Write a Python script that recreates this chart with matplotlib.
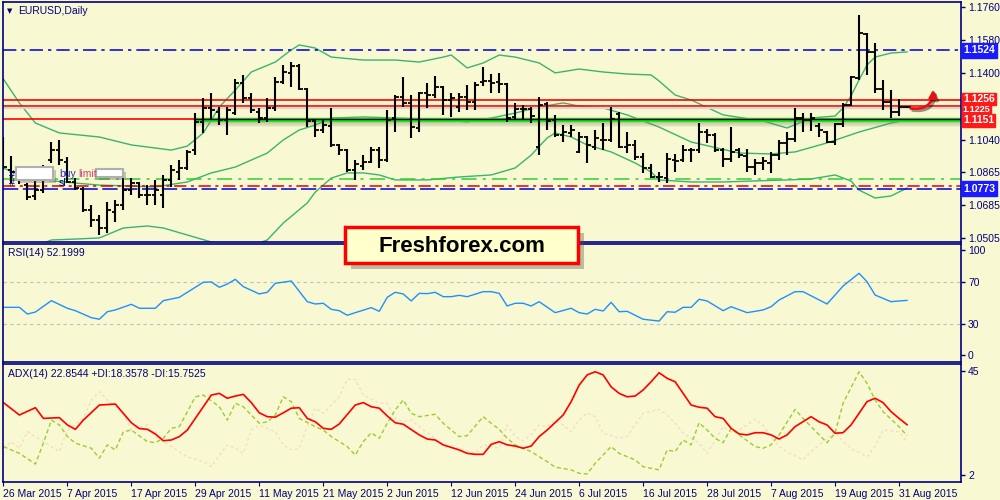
import matplotlib
matplotlib.use("Agg")
import matplotlib.pyplot as plt
import matplotlib.patheffects as pe
from matplotlib.patches import Rectangle, FancyArrowPatch
import numpy as np

# EURUSD daily bars, 26 Mar 2015 .. 1 Sep 2015
opens = [
    1.0956, 1.0875, 1.0864, 1.0793, 1.0734, 1.0766, 1.0929, 1.0983, 1.0918, 1.0810,
    1.0772, 1.0658, 1.0603, 1.0560, 1.0647, 1.0685, 1.0766, 1.0804, 1.0739, 1.0739,
    1.0739, 1.0821, 1.0864, 1.0886, 1.0983, 1.1136, 1.1212, 1.1190, 1.1146, 1.1184,
    1.1347, 1.1266, 1.1190, 1.1157, 1.1212, 1.1353, 1.1402, 1.1440, 1.1315, 1.1141,
    1.1092, 1.1114, 1.1011, 1.0983, 1.0875, 1.0897, 1.0918, 1.0983, 1.0929, 1.1157,
    1.1271, 1.1239, 1.1103, 1.1293, 1.1282, 1.1326, 1.1255, 1.1217, 1.1271, 1.1244,
    1.1353, 1.1358, 1.1353, 1.1342, 1.1163, 1.1206, 1.1206, 1.1000, 1.1233, 1.1146,
    1.1065, 1.1076, 1.0973, 1.1054, 1.1000, 1.1038, 1.1038, 1.1179, 1.1000, 1.1011,
    1.0945, 1.0886, 1.0837, 1.0831, 1.0929, 1.0929, 1.0983, 1.0983, 1.1081, 1.1065,
    1.0983, 1.0935, 1.0983, 1.0951, 1.0891, 1.0913, 1.0913, 1.0956, 1.1022, 1.1043,
    1.1157, 1.1146, 1.1114, 1.1081, 1.1027, 1.1125, 1.1228, 1.1374, 1.1613, 1.1516,
    1.1315, 1.1244, 1.1190, 1.1217]
highs = [
    1.1054, 1.0951, 1.0886, 1.0804, 1.0815, 1.0902, 1.1027, 1.1038, 1.0945, 1.0831,
    1.0783, 1.0685, 1.0631, 1.0701, 1.0712, 1.0831, 1.0831, 1.0810, 1.0793, 1.0821,
    1.0848, 1.0902, 1.0929, 1.0983, 1.1184, 1.1266, 1.1293, 1.1217, 1.1217, 1.1369,
    1.1391, 1.1293, 1.1212, 1.1266, 1.1380, 1.1445, 1.1461, 1.1450, 1.1320, 1.1146,
    1.1146, 1.1212, 1.1016, 1.0989, 1.0929, 1.0956, 1.1000, 1.1000, 1.1201, 1.1282,
    1.1380, 1.1282, 1.1298, 1.1347, 1.1385, 1.1331, 1.1293, 1.1293, 1.1336, 1.1353,
    1.1434, 1.1396, 1.1402, 1.1347, 1.1239, 1.1228, 1.1217, 1.1271, 1.1244, 1.1174,
    1.1119, 1.1119, 1.1081, 1.1060, 1.1092, 1.1130, 1.1217, 1.1190, 1.1081, 1.1038,
    1.0967, 1.0907, 1.0864, 1.0967, 1.0962, 1.1011, 1.0994, 1.1130, 1.1098, 1.1076,
    1.0994, 1.1108, 1.0994, 1.0989, 1.0935, 1.0945, 1.0973, 1.1038, 1.1081, 1.1212,
    1.1184, 1.1184, 1.1130, 1.1087, 1.1130, 1.1239, 1.1385, 1.1717, 1.1619, 1.1565,
    1.1364, 1.1309, 1.1260, 1.1222]
lows = [
    1.0875, 1.0804, 1.0799, 1.0712, 1.0712, 1.0750, 1.0913, 1.0902, 1.0804, 1.0766,
    1.0647, 1.0565, 1.0522, 1.0533, 1.0593, 1.0658, 1.0739, 1.0723, 1.0685, 1.0685,
    1.0669, 1.0783, 1.0821, 1.0875, 1.0956, 1.1076, 1.1146, 1.1119, 1.1065, 1.1174,
    1.1239, 1.1184, 1.1130, 1.1136, 1.1195, 1.1342, 1.1326, 1.1309, 1.1108, 1.1054,
    1.1076, 1.1000, 1.0956, 1.0864, 1.0821, 1.0875, 1.0913, 1.0886, 1.0918, 1.1081,
    1.1217, 1.1049, 1.1081, 1.1212, 1.1266, 1.1174, 1.1163, 1.1190, 1.1201, 1.1201,
    1.1331, 1.1293, 1.1293, 1.1136, 1.1146, 1.1146, 1.1130, 1.0956, 1.1092, 1.1054,
    1.1027, 1.1054, 1.0967, 1.0913, 1.0983, 1.0983, 1.1027, 1.0994, 1.0967, 1.0929,
    1.0859, 1.0831, 1.0810, 1.0804, 1.0864, 1.0918, 1.0918, 1.0967, 1.1022, 1.0973,
    1.0891, 1.0918, 1.0940, 1.0864, 1.0848, 1.0875, 1.0859, 1.0929, 1.0956, 1.1027,
    1.1081, 1.1087, 1.1054, 1.1022, 1.1011, 1.1108, 1.1222, 1.1364, 1.1391, 1.1293,
    1.1201, 1.1157, 1.1168, 1.1212]
closes = [
    1.0891, 1.0864, 1.0831, 1.0728, 1.0766, 1.0886, 1.0983, 1.0929, 1.0810, 1.0777,
    1.0658, 1.0603, 1.0560, 1.0658, 1.0685, 1.0766, 1.0804, 1.0739, 1.0739, 1.0766,
    1.0821, 1.0875, 1.0886, 1.0973, 1.1136, 1.1212, 1.1201, 1.1146, 1.1201, 1.1347,
    1.1266, 1.1201, 1.1157, 1.1212, 1.1353, 1.1407, 1.1440, 1.1315, 1.1141, 1.1092,
    1.1119, 1.1011, 1.0983, 1.0875, 1.0907, 1.0918, 1.0983, 1.0929, 1.1146, 1.1271,
    1.1239, 1.1108, 1.1293, 1.1282, 1.1326, 1.1255, 1.1266, 1.1271, 1.1244, 1.1336,
    1.1358, 1.1347, 1.1342, 1.1157, 1.1206, 1.1206, 1.1168, 1.1228, 1.1141, 1.1065,
    1.1081, 1.1092, 1.1054, 1.1011, 1.1049, 1.1038, 1.1152, 1.1000, 1.1011, 1.0945,
    1.0886, 1.0837, 1.0837, 1.0935, 1.0924, 1.0983, 1.0983, 1.1081, 1.1065, 1.0983,
    1.0935, 1.0973, 1.0956, 1.0891, 1.0913, 1.0924, 1.0956, 1.1022, 1.1043, 1.1157,
    1.1146, 1.1157, 1.1092, 1.1027, 1.1125, 1.1228, 1.1380, 1.1619, 1.1516, 1.1315,
    1.1244, 1.1190, 1.1217, 1.1217]

# Bollinger bands (read at bar indices)
bb_up_idx = [0, 2, 4, 7, 12, 16, 21, 23, 25, 27, 29, 31, 34, 36, 37, 39, 41, 45, 49, 52,
             55, 56, 58, 60, 62, 64, 67, 69, 72, 75, 78, 81, 82, 84, 86, 90, 95, 98, 101,
             104, 105, 106, 107, 108, 109, 111, 113]
bb_up = [1.1369, 1.1239, 1.1130, 1.1076, 1.1054, 1.1011, 1.0983, 1.1005, 1.1076, 1.1217,
         1.1309, 1.1407, 1.1461, 1.1527, 1.1554, 1.1537, 1.1488, 1.1472, 1.1472, 1.1461,
         1.1488, 1.1499, 1.1429, 1.1456, 1.1499, 1.1488, 1.1456, 1.1402, 1.1423, 1.1407,
         1.1396, 1.1391, 1.1358, 1.1282, 1.1255, 1.1174, 1.1141, 1.1103, 1.1157,
         1.1168, 1.1212, 1.1277, 1.1364, 1.1445, 1.1488, 1.1510, 1.1516]
bb_mid_idx = [0, 2, 5, 9, 12, 16, 19, 23, 26, 29, 31, 33, 35, 37, 39, 41, 45, 49, 53, 55,
              58, 61, 64, 67, 70, 72, 75, 78, 82, 86, 92, 96, 99, 103, 107, 111, 113]
bb_mid = [1.0886, 1.0848, 1.0821, 1.0804, 1.0793, 1.0788, 1.0783, 1.0810, 1.0859, 1.0891,
          1.0929, 1.0967, 1.1038, 1.1092, 1.1119, 1.1157, 1.1163, 1.1157, 1.1152, 1.1146,
          1.1136, 1.1157, 1.1184, 1.1217, 1.1239, 1.1222, 1.1212, 1.1174, 1.1108, 1.1027,
          1.0967, 1.0962, 1.0973, 1.1022, 1.1081, 1.1130, 1.1146]
bb_lo_idx = [0, 3, 6, 9, 12, 15, 18, 20, 23, 26, 29, 32, 33, 35, 38, 39, 41, 43, 45, 47,
             49, 53, 57, 61, 64, 66, 68, 69, 71, 73, 76, 79, 81, 82, 86, 90, 98, 101,
             104, 106, 107, 109, 111, 113]
bb_lo = [1.0397, 1.0441, 1.0495, 1.0500, 1.0506, 1.0560, 1.0571, 1.0560, 1.0522, 1.0484,
         1.0457, 1.0479, 1.0495, 1.0587, 1.0696, 1.0755, 1.0831, 1.0859, 1.0859, 1.0848,
         1.0821, 1.0821, 1.0837, 1.0848, 1.0886, 1.0956, 1.1049, 1.1076, 1.1054, 1.1011,
         1.0973, 1.0913, 1.0864, 1.0821, 1.0810, 1.0810, 1.0821, 1.0826,
         1.0848, 1.0815, 1.0766, 1.0723, 1.0734, 1.0777]

# RSI(14)
rsi_idx = [0, 2, 3, 4, 6, 8, 9, 11, 12, 13, 14, 16, 17, 19, 20, 22, 25, 26, 27, 28, 29, 30,
           32, 33, 34, 36, 38, 39, 40, 41, 42, 43, 44, 46, 47, 48, 49, 50, 51, 52, 53, 54,
           55, 56, 57, 58, 60, 61, 62, 63, 64, 65, 66, 67, 69, 71, 72, 73, 74, 75, 76, 77,
           78, 80, 82, 83, 84, 85, 86, 87, 88, 90, 91, 93, 95, 96, 97, 99, 100, 103, 105,
           107, 108, 109, 111, 112, 113]
rsi_val = [45.6, 45.6, 39.2, 41.1, 52.0, 44.7, 42.4, 35.7, 34.2, 41.4, 43.1, 48.5, 44.7,
           44.7, 52.0, 55.2, 69.6, 69.9, 64.8, 67.9, 72.4, 65.4, 58.4, 60.0, 68.6, 70.8,
           51.0, 48.8, 49.5, 43.7, 42.4, 38.0, 40.5, 45.3, 41.8, 55.2, 60.0, 58.4, 51.7,
           59.0, 58.7, 60.0, 55.8, 55.8, 57.1, 55.8, 60.6, 60.6, 59.0, 46.9, 49.5, 49.5,
           46.9, 51.0, 40.5, 44.7, 40.5, 39.2, 43.7, 42.1, 50.4, 41.4, 41.8, 34.2, 32.5,
           41.4, 40.9, 45.6, 45.6, 53.3, 51.7, 42.4, 46.2, 40.5, 43.1, 46.2, 52.6, 60.6,
           60.6, 48.8, 66.0, 78.2, 70.1, 57.4, 51.0, 51.7, 52.2]

# ADX(14), +DI, -DI
adx_idx = [0, 2, 4, 5, 7, 8, 9, 10, 12, 14, 16, 17, 18, 19, 20, 21, 22, 23, 24, 26, 27, 28,
           29, 30, 31, 32, 33, 34, 35, 36, 37, 38, 39, 40, 41, 42, 44, 45, 46, 47, 48, 49,
           50, 52, 53, 54, 55, 57, 58, 59, 60, 61, 62, 63, 64, 65, 66, 67, 68, 70, 71, 72,
           73, 74, 75, 76, 77, 78, 79, 80, 81, 82, 83, 84, 85, 86, 87, 88, 89, 90, 91, 92,
           93, 94, 95, 96, 97, 98, 99, 101, 102, 103, 104, 105, 106, 107, 108, 109, 110,
           111, 112, 113]
adx_val = [32.0, 26.9, 29.9, 25.5, 25.8, 22.8, 21.0, 24.8, 31.0, 31.4, 23.7, 21.3, 21.0,
           19.1, 16.3, 16.6, 18.0, 20.7, 25.5, 35.1, 35.8, 33.8, 34.7, 35.4, 32.0, 27.8,
           26.2, 26.0, 27.8, 29.7, 29.9, 25.5, 24.1, 21.4, 21.0, 23.2, 31.0, 32.0, 30.3,
           29.7, 26.5, 23.7, 23.1, 18.7, 17.0, 16.6, 14.6, 12.5, 11.1, 10.7, 10.7, 14.8,
           15.9, 14.6, 14.1, 13.2, 14.1, 18.0, 20.7, 26.9, 32.4, 39.2, 43.4, 44.7, 43.4,
           38.5, 35.8, 34.4, 34.7, 37.2, 40.6, 44.3, 42.0, 40.6, 35.8, 31.0, 30.1, 29.7,
           26.2, 25.5, 21.4, 19.1, 18.7, 19.6, 19.6, 18.7, 17.0, 18.7, 22.1, 26.2, 24.1,
           22.8, 19.4, 19.6, 22.8, 27.6, 32.4, 33.8, 32.0, 28.3, 25.5, 22.9]
pdi_idx = [0, 2, 4, 5, 6, 7, 8, 9, 11, 12, 13, 14, 15, 16, 18, 19, 20, 21, 22, 24, 25, 27,
           28, 29, 30, 32, 33, 34, 35, 36, 37, 39, 40, 41, 43, 44, 45, 46, 47, 48, 49, 50,
           51, 52, 54, 55, 57, 58, 60, 61, 62, 63, 64, 66, 67, 68, 69, 71, 72, 73, 74, 76,
           77, 79, 80, 82, 83, 84, 85, 86, 87, 88, 89, 90, 91, 92, 94, 95, 96, 97, 99, 100,
           101, 102, 103, 104, 105, 107, 108, 109, 110, 112, 113]
pdi_val = [13.9, 11.1, 6.7, 15.3, 24.8, 22.8, 18.0, 15.3, 13.2, 9.1, 14.6, 12.5, 20.0, 20.7,
           15.9, 15.5, 17.3, 21.4, 22.1, 34.4, 35.1, 30.3, 24.8, 31.7, 30.3, 23.5, 24.1,
           26.9, 34.4, 32.4, 25.5, 22.1, 20.7, 18.0, 13.9, 10.4, 15.9, 19.6, 17.3, 23.5,
           29.0, 33.1, 27.6, 26.2, 27.2, 23.5, 18.0, 18.4, 26.2, 23.5, 21.0, 17.3, 14.6,
           11.8, 9.7, 7.7, 5.4, 4.3, 2.9, 2.6, 7.0, 13.9, 11.1, 8.4, 5.6, 4.3, 12.5, 11.8,
           16.6, 14.6, 23.7, 20.7, 17.3, 15.5, 21.4, 18.7, 13.9, 13.2, 14.6, 18.7, 29.2,
           25.5, 22.1, 18.7, 15.5, 19.4, 31.7, 44.7, 39.9, 33.1, 28.3, 22.1, 18.4]
mdi_idx = [0, 1, 2, 3, 4, 6, 7, 8, 10, 11, 12, 13, 15, 16, 18, 19, 21, 23, 25, 26, 27, 28,
           29, 30, 31, 32, 34, 35, 36, 37, 38, 39, 40, 42, 43, 44, 45, 47, 48, 49, 50, 51,
           52, 54, 55, 57, 59, 60, 62, 63, 64, 65, 66, 67, 68, 69, 70, 71, 72, 73, 74, 75,
           77, 78, 79, 80, 82, 83, 84, 85, 87, 88, 89, 90, 91, 92, 94, 95, 96, 97, 98, 100,
           101, 103, 104, 105, 106, 108, 109, 110, 112, 113]
mdi_val = [13.2, 15.9, 13.2, 20.0, 18.0, 13.9, 11.8, 20.7, 25.5, 33.1, 36.5, 33.1, 27.6,
           20.7, 22.8, 18.0, 13.9, 9.7, 7.7, 5.6, 10.4, 14.6, 13.2, 11.1, 20.7, 22.8, 20.0,
           14.6, 12.5, 13.2, 22.1, 29.7, 27.6, 34.4, 41.6, 41.6, 35.1, 31.7, 31.7, 25.5,
           24.1, 24.8, 22.1, 17.3, 13.9, 13.2, 11.1, 14.6, 13.2, 22.8, 18.0, 16.3, 18.7,
           22.8, 22.1, 24.8, 22.8, 20.0, 24.8, 27.8, 26.2, 19.4, 17.3, 18.0, 22.8, 27.6,
           29.2, 26.9, 23.5, 19.4, 15.3, 11.1, 16.6, 22.1, 20.0, 20.7, 25.1, 22.8, 18.0,
           13.9, 11.8, 8.4, 11.8, 17.3, 20.0, 15.9, 13.2, 9.7, 13.9, 20.7, 20.0, 15.8]

date_labels = ['26 Mar 2015', '7 Apr 2015', '17 Apr 2015', '29 Apr 2015', '11 May 2015',
               '21 May 2015', '2 Jun 2015', '12 Jun 2015', '24 Jun 2015', '6 Jul 2015',
               '16 Jul 2015', '28 Jul 2015', '7 Aug 2015', '19 Aug 2015', '31 Aug 2015']
price_ticks = [1.1760, 1.1580, 1.1400, 1.1040, 1.0865, 1.0685, 1.0505]

# horizontal levels
lvl_blue_top = 1.1524
lvl_red = [1.1256, 1.1225]
lvl_support = 1.1151
lvl_green_dd = 1.0826
lvl_red_dd = 1.0788
lvl_blue_low = 1.0773

BG = '#f8f8d2'
NAVY = '#000080'
plt.rcParams['font.family'] = ['Liberation Sans', 'DejaVu Sans']

fig = plt.figure(figsize=(10, 5), dpi=100, facecolor=BG)
W, H = 1000.0, 500.0


def px_axes(x0, y0, x1, y1):
    return fig.add_axes([x0 / W, 1 - y1 / H, (x1 - x0) / W, (y1 - y0) / H])


ax = px_axes(3, 2, 961, 242)
ax_rsi = px_axes(3, 244, 961, 362)
ax_adx = px_axes(3, 364, 961, 482)

for a in (ax, ax_rsi, ax_adx):
    a.set_facecolor(BG)
    for s in a.spines.values():
        s.set_color(NAVY)
        s.set_linewidth(1.2)
    a.set_xlim(-0.05, 119.75)
    a.yaxis.tick_right()
    a.tick_params(axis='y', colors=NAVY, labelsize=7.5, length=3, pad=2, width=1)

ax.set_xticks([])
ax_rsi.set_xticks([])

# ---- main price panel
idx = np.arange(len(closes))
ax.set_ylim(1.0484, 1.1787)

ax.plot(bb_up_idx, bb_up, color='#3cb371', lw=1)
ax.plot(bb_mid_idx, bb_mid, color='#3cb371', lw=1)
ax.plot(bb_lo_idx, bb_lo, color='#3cb371', lw=1)

ax.axhline(lvl_blue_top, color='#1010d8', lw=1.2, ls=(0, (8, 3, 2, 3)))
for lv in lvl_red:
    ax.axhline(lv, color='#ff0000', lw=1.2)
ax.axhline(1.1210, color='#d8d8cc', lw=1.6)
ax.axhline(lvl_support, color='#ff0000', lw=1.2)
for k in range(1, 7):
    ax.hlines(lvl_support - 0.0004 - k * 0.00045, 24, 119.75, color='#808070',
              alpha=0.10, lw=2)
ax.hlines(lvl_support - 0.0003, 24, 119.75, color='#22e022', lw=3.2)
ax.hlines(lvl_support + 0.0002, 24, 119.75, color='black', lw=1)
ax.axhline(lvl_green_dd, color='#33cc33', lw=1.1, ls=(0, (10, 4, 2, 4)))
ax.axhline(lvl_red_dd, color='#e00000', lw=1.1, ls=(0, (8, 3, 2, 3)))
ax.axhline(lvl_blue_low, color='#0000d0', lw=1.1, ls=(0, (10, 3)))

ax.vlines(idx, lows, highs, color='black', lw=1.5, zorder=5)
ax.hlines(opens, idx - 0.45, idx, color='black', lw=1.3, zorder=5)
ax.hlines(closes, idx, idx + 0.45, color='black', lw=1.3, zorder=5)

ax.set_yticks(price_ticks)
ax.set_yticklabels([f'{v:.4f}' for v in price_ticks])


def side_label(a, y, text, color, size=7.5, pad=0.22):
    a.text(1.002, y, text, transform=a.get_yaxis_transform(), color='white',
           fontsize=size, fontweight='bold', va='center', ha='left', clip_on=False,
           zorder=20, bbox=dict(boxstyle=f'square,pad={pad}', fc=color, ec=color))


side_label(ax, lvl_blue_top, '1.1524', '#1a1aff')
side_label(ax, 1.1261, '1.1256', '#ff1a1a', pad=0.12)
side_label(ax, 1.1206, '1.1225', '#ff1a1a', size=6.5, pad=0.08)
side_label(ax, lvl_support - 0.0007, '1.1151', '#ff1a1a', pad=0.12)
side_label(ax, lvl_blue_low, '1.0773', '#1a1aff')

ax.text(0.004, 0.962, '\u25bc', transform=ax.transAxes, color=NAVY, fontsize=5,
        va='center', ha='left', family=['DejaVu Sans'])
ax.text(0.0155, 0.962, 'EURUSD,Daily', transform=ax.transAxes, color=NAVY,
        fontsize=7.5, va='center', ha='left')

arrow = FancyArrowPatch((113.1, 1.1212), (116.3, 1.1327), connectionstyle='arc3,rad=0.6',
                        arrowstyle='-|>', mutation_scale=11, color='#e81010', lw=2,
                        zorder=15, clip_on=False,
                        path_effects=[pe.SimpleLineShadow(offset=(1.5, -1.5), alpha=0.4),
                                      pe.Normal()])
ax.add_patch(arrow)

# ---- RSI panel
ax_rsi.set_ylim(-6.7, 106.2)
for lv in (70, 30):
    ax_rsi.axhline(lv, color='#c0c0c0', lw=0.8, ls=(0, (3, 3)))
ax_rsi.plot(rsi_idx, rsi_val, color='#1e90ff', lw=1)
ax_rsi.set_yticks([0, 30, 70, 100])
ax_rsi.text(0.005, 0.925, 'RSI(14) 52.1999', transform=ax_rsi.transAxes, color=NAVY,
            fontsize=7.5, va='center', ha='left')

# ---- ADX panel
ax_adx.set_ylim(-0.7, 47.9)
ax_adx.plot(mdi_idx, mdi_val, color='#f6dcc4', lw=1, ls=(0, (2, 2)))
ax_adx.plot(pdi_idx, pdi_val, color='#9acd32', lw=1, ls=(0, (3, 2)))
ax_adx.plot(adx_idx, adx_val, color='#ff0000', lw=1.2)
ax_adx.set_yticks([2, 45])
ax_adx.text(0.005, 0.915, 'ADX(14) 22.8544 +DI:18.3578 -DI:15.7525',
            transform=ax_adx.transAxes, color=NAVY, fontsize=7.5, va='center', ha='left')
ax_adx.set_xticks(np.arange(len(date_labels)) * 8)
ax_adx.set_xticklabels(date_labels, ha='left')
ax_adx.tick_params(axis='x', colors=NAVY, labelsize=7.5, length=3, pad=2)

# ---- overlay (pixel coordinates) for watermark and object labels
ov = fig.add_axes([0, 0, 1, 1], zorder=30)
ov.set_xlim(0, W)
ov.set_ylim(H, 0)
ov.axis('off')
ov.patch.set_alpha(0)

box = Rectangle((345, 227), 233, 36, fc='#ffffcc', ec='#ff0000', lw=2.5,
                path_effects=[pe.SimplePatchShadow(offset=(4, -4), alpha=0.35),
                              pe.Normal()])
ov.add_patch(box)
ov.text(461.5, 246, 'Freshforex.com', fontsize=16, fontweight='bold', color='black',
        ha='center', va='center')

ov.text(9, 175, '#', color=NAVY, fontsize=7.5, ha='left', va='center')
ov.text(9, 183, '#', color=NAVY, fontsize=7.5, ha='left', va='center')
ov.text(59, 183, 'sl', color=NAVY, fontsize=7.5, ha='left', va='center')
ov.text(59, 174, 'buy', color='#2a2ad0', fontsize=7.5, ha='left', va='center')
ov.text(78, 174, 'limit', color='#d04070', fontsize=7.5, ha='left', va='center')
for (bx, by, bw, bh) in [(16, 167, 37, 13), (96, 169, 27, 8)]:
    ov.add_patch(Rectangle((bx, by), bw, bh, fc='white', ec='#b0b0b0', lw=1.5,
                           path_effects=[pe.SimplePatchShadow(offset=(2, -2), alpha=0.3),
                                         pe.Normal()]))

fig.savefig('out.png', dpi=100, facecolor=BG)
